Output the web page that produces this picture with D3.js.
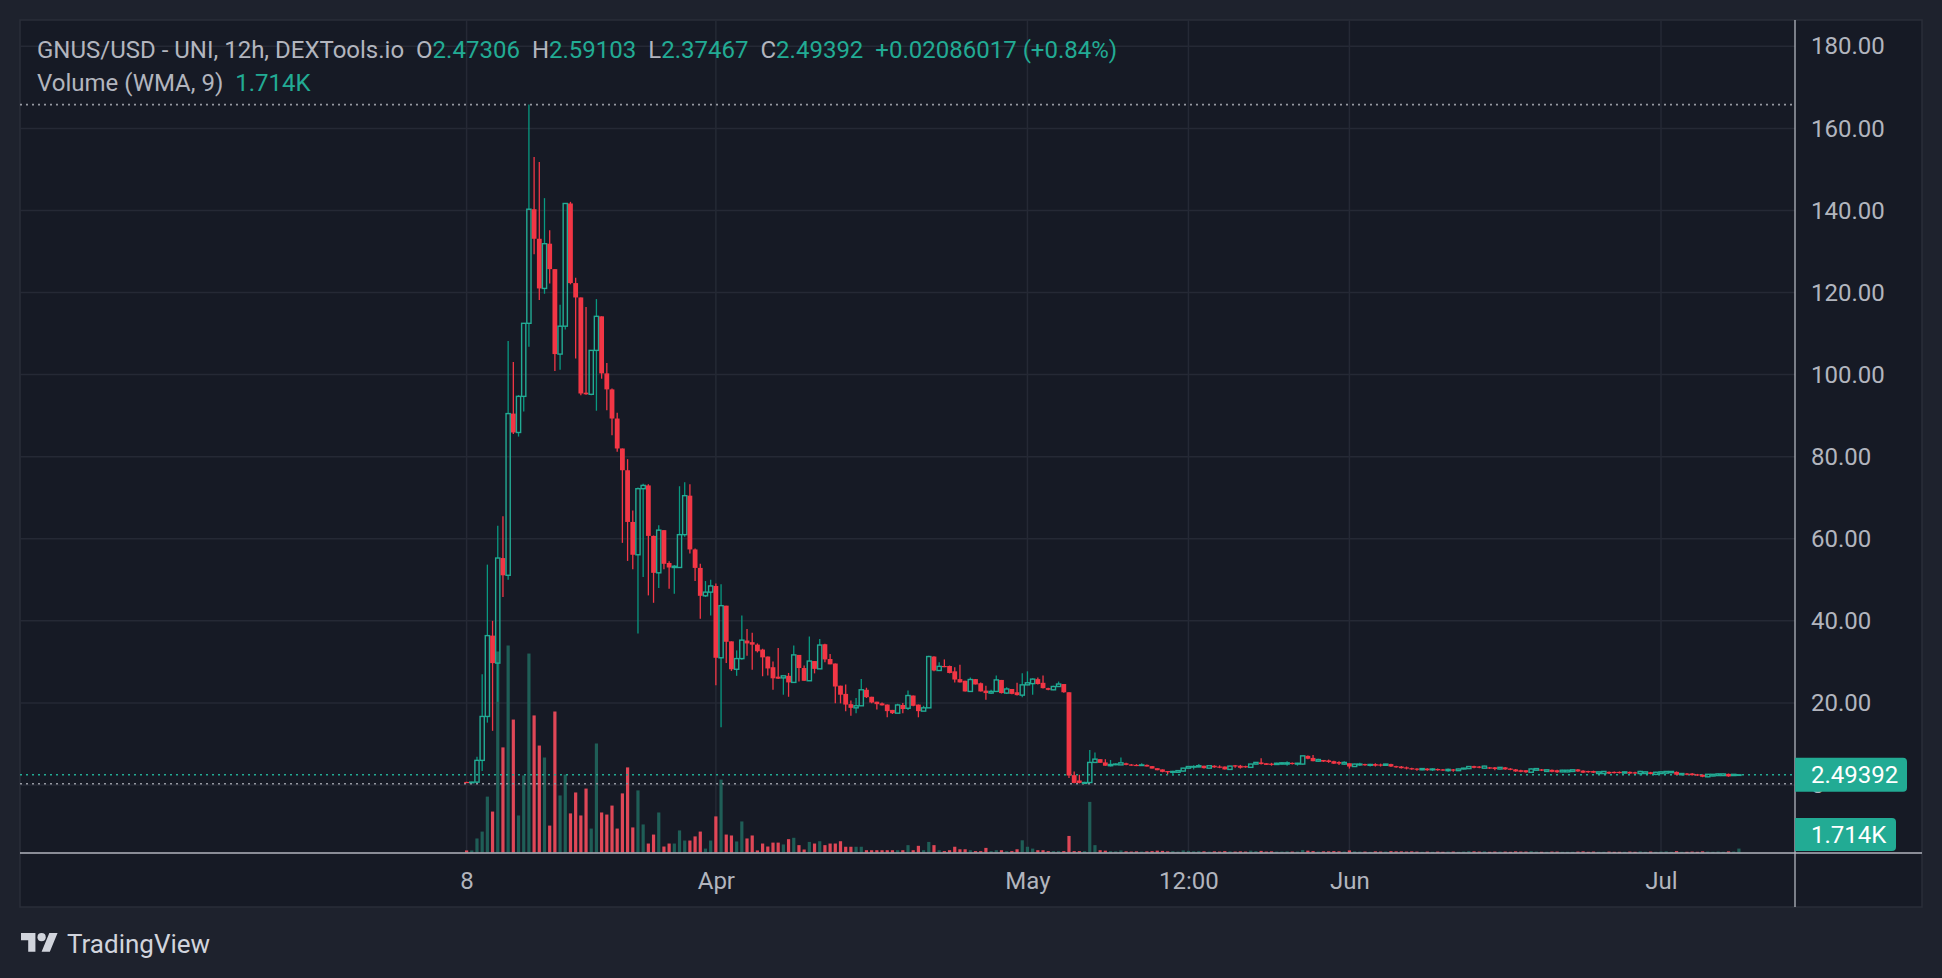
<!DOCTYPE html>
<html><head><meta charset="utf-8">
<script src="https://cdn.jsdelivr.net/npm/d3@7"></script>
<style>
html,body{margin:0;padding:0;background:#1e222d;}
svg{display:block;font-family:Roboto,"Noto Sans",sans-serif;}
</style></head><body>
<svg id="chart" width="1942" height="978"></svg>
<script>
// ---- DATA (12h candles, GNUS/USD) ----
const startDate = "2024-03-08T00:00:00Z";
const open = [
0.75,0.62,0.70,6.0,16.7,36.4,29.7,55.3,51.1,90.5,
85.9,94.7,112.5,140.3,133.1,121.0,131.9,125.7,105.0,111.8,
141.7,122.3,118.8,95.6,95.2,105.9,114.2,100.3,96.4,89.3,
82.0,76.7,64.1,56.1,72.2,73.0,60.7,51.7,62.1,54.1,
53.0,53.0,61.0,70.5,57.4,52.9,46.1,47.0,48.5,31.0,
43.7,35.0,28.2,30.8,35.2,34.8,34.2,33.0,31.3,28.7,
26.4,26.1,26.6,25.0,31.7,28.5,25.4,30.2,28.3,34.3,
30.7,29.6,24.2,22.2,19.7,18.8,19.3,23.2,21.5,20.3,
19.9,19.6,18.3,17.5,19.5,18.7,21.8,19.6,18.0,18.8,
31.3,27.9,29.0,29.0,27.7,25.8,25.4,22.8,25.8,24.8,
23.0,22.4,22.8,25.6,22.4,23.4,22.6,21.9,24.4,24.7,
25.8,24.9,23.6,23.2,24.0,24.6,22.6,2.4,1.1,0.4,
0.6,5.5,6.3,5.5,4.7,5.0,4.9,5.3,5.0,4.9,
4.8,4.9,4.6,4.1,3.8,3.4,3.1,3.1,3.4,4.1,
4.4,4.4,4.7,4.1,4.7,4.5,4.5,3.8,4.8,4.7,
4.6,4.3,5.1,5.5,5.3,5.2,5.0,5.1,5.1,5.4,
5.1,5.1,7.1,6.6,5.8,6.1,6.0,5.8,5.6,5.1,
5.3,4.5,4.9,5.1,4.8,5.1,5.0,4.8,5.1,4.6,
4.5,4.3,4.1,4.0,3.7,4.0,3.7,3.9,3.8,3.5,
3.8,3.5,3.9,4.0,4.6,4.5,4.1,4.3,4.3,3.9,
4.3,4.0,3.8,3.6,3.6,3.1,3.6,3.8,3.3,3.7,
3.6,3.2,3.2,3.3,3.8,3.5,3.4,3.4,2.8,2.8,
3.2,3.2,3.2,2.9,3.2,3.1,2.8,2.8,3.1,2.6,
2.8,2.9,3.0,3.2,2.5,2.8,2.8,2.6,2.5,2.0,
2.2,2.3,2.3,2.7,2.3,2.47306];
const high = [
0.8,0.8,6.9,27.0,53.7,40.0,63.2,65.5,108.2,103.1,
95.0,112.5,165.8,153.0,151.8,143.0,135.2,125.7,117.0,141.7,
142.1,123.6,118.8,116.5,106.0,118.4,114.2,102.8,96.6,90.7,
82.0,79.4,66.9,72.5,73.4,73.3,60.8,63.3,62.1,54.5,
53.6,72.8,73.8,73.3,57.6,53.9,49.7,50.0,49.1,48.9,
43.7,35.0,32.8,41.3,38.0,37.1,34.5,33.2,31.3,30.1,
33.4,26.6,27.3,34.0,31.7,29.1,36.2,30.2,35.6,34.4,
31.9,29.6,24.2,24.5,20.6,21.2,25.8,23.7,21.5,20.3,
20.1,19.6,18.3,19.8,20.0,23.0,21.8,19.6,19.3,31.5,
31.4,29.9,30.6,29.1,28.7,29.3,25.4,26.2,25.8,25.0,
24.2,23.2,26.7,25.6,23.8,23.4,24.9,27.2,27.7,26.0,
26.2,26.7,23.7,24.2,25.2,24.6,22.6,3.3,2.5,0.8,
8.5,7.9,6.3,6.3,6.1,5.3,6.7,5.4,5.1,5.1,
5.3,5.0,4.6,4.1,3.8,3.4,3.5,3.6,4.2,4.6,
4.8,5.1,4.7,4.7,4.8,4.8,4.5,4.7,4.9,4.9,
4.7,5.2,5.6,6.5,5.3,5.4,5.4,5.6,5.8,5.5,
5.4,7.2,7.2,7.3,6.4,6.1,6.2,5.9,5.8,5.8,
5.3,5.2,5.4,5.2,5.2,5.3,5.2,5.2,5.2,4.7,
4.6,4.5,4.2,4.1,4.1,4.1,4.1,4.0,3.9,4.0,
3.9,4.0,4.2,4.6,4.7,4.6,4.7,4.4,4.4,4.4,
4.4,4.1,3.9,3.7,3.6,4.1,4.1,3.9,3.8,3.8,
3.7,3.7,3.7,3.8,3.9,3.6,3.5,3.5,3.3,3.4,
3.3,3.3,3.3,3.3,3.3,3.2,3.5,3.3,3.2,3.2,
3.3,3.4,3.4,3.3,2.9,2.9,2.9,2.7,2.6,2.7,
2.7,2.8,2.8,2.8,2.7,2.59103];
const low = [
0.5,0.55,0.5,3.4,15.2,13.2,20.3,45.8,50.0,85.5,
84.9,91.0,106.8,129.3,118.2,119.7,122.2,100.9,101.2,111.0,
122.0,103.9,95.0,95.1,95.0,91.2,99.0,91.3,85.2,81.2,
59.0,54.6,52.6,36.9,50.7,46.2,44.4,48.0,52.6,47.8,
46.6,53.0,60.5,56.4,49.7,40.5,45.8,41.3,24.3,14.1,
29.7,27.8,26.6,30.5,31.5,28.1,32.3,26.5,26.7,23.2,
25.8,22.0,21.5,25.0,25.2,25.4,25.4,27.2,28.3,29.9,
29.4,19.9,19.9,18.0,16.9,17.5,19.3,21.2,19.9,18.4,
19.4,16.5,17.3,17.5,17.5,18.3,19.2,16.5,18.0,18.8,
27.7,27.9,28.7,27.2,25.0,25.0,22.8,22.8,24.5,22.8,
20.8,22.2,22.8,22.3,22.2,22.1,21.8,21.4,24.3,22.0,
24.5,23.5,23.1,23.1,23.9,22.5,1.7,0.4,0.4,0.3,
0.5,5.5,5.4,4.7,4.5,4.8,4.9,4.8,4.7,4.6,
4.6,4.5,4.0,3.6,3.1,2.6,2.3,3.0,3.3,4.0,
3.8,4.3,4.0,4.0,4.2,4.1,3.8,3.7,4.2,4.0,
4.2,4.2,5.0,5.0,4.9,4.7,4.9,5.0,4.7,5.0,
4.7,5.0,6.3,5.8,5.6,5.6,5.4,5.1,4.9,4.9,
4.0,4.4,4.6,4.7,4.5,4.5,4.5,4.7,4.4,4.2,
4.0,3.8,3.7,3.5,3.6,3.5,3.4,3.5,3.5,3.2,
3.2,3.4,3.8,4.0,4.1,4.1,4.0,3.9,3.6,3.8,
3.7,3.6,3.2,3.1,3.0,3.1,3.5,3.4,3.2,3.1,
3.0,3.1,3.1,3.2,3.2,2.9,3.0,2.9,2.7,2.7,
2.7,2.8,2.8,2.8,2.7,2.7,2.3,2.7,2.6,2.4,
2.7,2.8,2.9,2.4,2.4,2.4,2.3,2.2,1.9,1.9,
2.1,2.2,2.2,2.0,2.2,2.37467];
const close = [
0.62,0.70,6.0,16.7,36.4,29.7,55.3,51.1,90.5,85.9,
94.7,112.5,140.3,133.1,121.0,131.9,125.7,105.0,111.8,141.7,
122.3,118.8,95.4,95.2,105.9,114.2,100.3,96.4,89.3,82.0,
76.7,64.1,56.1,72.2,73.0,60.7,51.7,62.1,53.9,53.0,
53.3,61.0,70.5,57.4,52.9,46.1,47.0,48.5,31.0,43.7,
34.9,28.2,30.8,35.3,34.5,34.2,32.6,31.1,28.4,26.0,
25.9,26.6,25.0,31.7,28.5,25.4,30.2,28.3,34.1,30.6,
29.4,24.0,22.0,19.6,18.8,19.3,23.2,21.4,20.1,19.7,
19.4,18.0,17.5,19.5,18.5,21.8,19.3,18.0,18.8,31.3,
27.9,28.9,28.8,27.3,25.7,25.0,22.8,25.7,24.5,22.8,
22.4,22.8,25.6,22.4,23.4,22.2,21.9,24.4,24.9,25.8,
24.6,23.6,23.2,24.0,24.6,22.6,2.3,0.5,0.5,0.6,
5.5,6.3,5.4,4.7,5.0,5.1,5.4,4.9,4.8,4.8,
4.9,4.5,4.0,3.6,3.2,3.1,3.3,3.5,4.1,4.5,
4.5,4.7,4.1,4.7,4.3,4.3,3.8,4.6,4.5,4.2,
4.3,5.1,5.5,5.1,4.9,4.9,5.3,5.4,5.4,5.1,
5.3,7.1,6.4,5.8,6.2,5.7,5.6,5.2,5.2,5.5,
4.5,5.1,5.1,4.8,5.0,4.7,4.8,5.1,4.5,4.3,
4.1,4.0,3.8,3.8,4.0,3.6,3.9,3.6,3.6,3.8,
3.5,3.9,4.1,4.5,4.2,4.2,4.6,4.0,3.9,4.3,
3.8,3.7,3.3,3.2,3.1,3.9,4.0,3.5,3.7,3.2,
3.1,3.6,3.6,3.7,3.3,3.0,3.1,3.0,3.2,3.3,
2.8,2.9,2.9,3.2,2.8,2.8,3.3,3.2,2.7,3.1,
3.2,3.3,3.3,2.5,2.8,2.5,2.4,2.3,2.0,2.6,
2.6,2.7,2.7,2.1,2.6,2.49392];
// volume in thousands
const volume = [
0.9,0.9,6.1,9.1,24.3,17.8,87.4,45.7,90.0,57.8,
16.1,33.5,86.5,59.6,46.5,41.3,11.7,61.3,24.8,33.9,
17.0,26.1,16.1,27.8,10.4,47.4,17.4,16.5,20.4,10.4,
25.7,37.0,10.9,27.0,12.2,3.9,7.8,17.4,2.6,3.9,
3.9,9.6,5.2,5.2,7.0,9.1,1.7,5.2,15.7,31.7,
7.8,7.4,4.8,13.5,6.1,7.4,0.9,3.9,2.6,4.3,
4.3,3.5,5.8,6.4,3.2,1.3,4.6,3.9,4.9,3.2,
3.9,3.9,4.9,2.5,2.5,2.5,2.5,1.0,1.0,1.0,
1.0,1.0,1.0,1.0,1.0,3.2,1.0,2.9,1.0,4.6,
3.2,1.0,0.6,1.0,2.5,1.4,1.4,1.0,0.6,0.6,
2.0,0.6,1.0,1.0,0.6,0.6,1.4,5.3,2.5,1.7,
1.0,1.0,0.6,0.6,0.6,0.6,7.2,0.6,0.6,0.6,
22.0,3.2,1.0,0.8,0.6,0.5,0.9,0.5,0.4,0.5,
0.4,0.5,0.6,0.8,0.7,0.5,0.6,0.4,0.9,0.7,
0.5,0.6,0.5,0.4,0.5,0.4,0.6,0.5,0.4,0.5,
0.4,0.8,0.6,0.7,0.4,0.5,0.4,0.4,0.5,0.4,
0.4,1.1,0.8,0.6,0.4,0.5,0.5,0.6,0.5,0.4,
0.9,0.5,0.4,0.4,0.3,0.5,0.4,0.4,0.6,0.5,
0.5,0.4,0.5,0.4,0.3,0.4,0.3,0.4,0.3,0.4,
0.4,0.3,0.4,0.6,0.5,0.4,0.5,0.3,0.4,0.4,
0.4,0.3,0.5,0.4,0.4,0.6,0.4,0.3,0.3,0.4,
0.4,0.3,0.3,0.3,0.4,0.5,0.3,0.4,0.3,0.3,
0.4,0.3,0.3,0.3,0.4,0.3,0.5,0.3,0.4,0.3,
0.4,0.5,0.3,0.6,0.3,0.3,0.4,0.3,0.5,0.4,
0.3,0.4,0.3,0.5,0.4,1.714];

const priceTicks = [0,20,40,60,80,100,120,140,160,180];
const timeTicks = ["2024-03-08T00:00:00Z","2024-04-01T00:00:00Z","2024-05-01T00:00:00Z","2024-05-16T12:00:00Z","2024-06-01T00:00:00Z","2024-07-01T00:00:00Z"];
const timeTickLabels = ["8","Apr","May","12:00","Jun","Jul"];
const legendTitle = "GNUS/USD - UNI, 12h, DEXTools.io";
const legendChange = "+0.02086017 (+0.84%)";
const volumeTitle = "Volume (WMA, 9)";
const volumeLast = "1.714K";

// ---- STYLE ----
const UP = "#22ab94", UPWICK = "#089981", DOWN = "#f23645";
const VOLUP = "#1f5e57", VOLDOWN = "#e04757";
const TXT = "#b2b5be", GRID = "#252935", AXIS = "#b2b5be";

const svg = d3.select("#chart");
const P = {left:20, right:1795, top:20, bottom:853};
const PANEL = {left:20, right:1922, top:20, bottom:907};

const t0 = new Date(startDate);
const dates = open.map((_, i) => new Date(t0.getTime() + i * 12 * 3600e3));
const x = d3.scaleUtc()
  .domain([new Date("2024-03-08T00:00:00Z"), new Date("2024-07-01T00:00:00Z")])
  .range([466.6, 1661]);
const y = d3.scaleLinear().domain([0,180]).range([785, 46.3]);
const yv = d3.scaleLinear().domain([0,100]).range([852.5, 622.5]);

// backgrounds
svg.append("rect").attr("width",1942).attr("height",978).attr("fill","#1e222d");
svg.append("rect").attr("x",PANEL.left).attr("y",PANEL.top)
  .attr("width",PANEL.right-PANEL.left).attr("height",PANEL.bottom-PANEL.top)
  .attr("fill","#161a25").attr("stroke","#2a2e39").attr("stroke-width",1.5);

svg.append("defs").append("clipPath").attr("id","clip").append("rect")
  .attr("x",P.left).attr("y",P.top).attr("width",P.right-P.left).attr("height",P.bottom-P.top);

// grid
const grid = svg.append("g").attr("clip-path","url(#clip)");
grid.selectAll("line.h").data(priceTicks).join("line")
  .attr("x1",P.left).attr("x2",P.right).attr("y1",d=>y(d)).attr("y2",d=>y(d))
  .attr("stroke",GRID).attr("stroke-width",1.5);
grid.selectAll("line.v").data(timeTicks).join("line")
  .attr("x1",d=>x(new Date(d))).attr("x2",d=>x(new Date(d))).attr("y1",P.top).attr("y2",P.bottom)
  .attr("stroke",GRID).attr("stroke-width",1.5);

const idx = d3.range(open.length);
const chart = svg.append("g").attr("clip-path","url(#clip)");

// volume
chart.selectAll("rect.vol").data(idx).join("rect")
  .attr("x",i=>x(dates[i])-1.6).attr("width",3.2)
  .attr("y",i=>yv(volume[i])).attr("height",i=>Math.max(1,yv(0)-yv(volume[i])))
  .attr("fill",i=>close[i]>=open[i]?VOLUP:VOLDOWN);

// dotted reference lines
const hiY = y(d3.max(high)), loY = y(d3.min(low)), lastY = y(close[close.length-1]);
[[hiY,"#9598a1"],[loY,"#9598a1"],[lastY,UP]].forEach(([yy,c])=>{
  chart.append("line").attr("x1",P.left).attr("x2",P.right).attr("y1",yy).attr("y2",yy)
    .attr("stroke",c).attr("stroke-width",1.6).attr("stroke-dasharray","2,4");
});

// candles
chart.selectAll("g.c").data(idx).join("g").attr("class","c").each(function(i){
  const g = d3.select(this);
  const cx = x(dates[i]);
  const up = close[i] >= open[i];
  const yo=y(open[i]), yc=y(close[i]), yh=y(high[i]), yl=y(low[i]);
  const top=Math.min(yo,yc), bot=Math.max(yo,yc);
  if (up) {
    if (top-yh>0.3) g.append("line").attr("x1",cx).attr("x2",cx).attr("y1",yh).attr("y2",top)
      .attr("stroke",UPWICK).attr("stroke-width",1.3);
    if (yl-bot>0.3) g.append("line").attr("x1",cx).attr("x2",cx).attr("y1",bot).attr("y2",yl)
      .attr("stroke",UPWICK).attr("stroke-width",1.3);
    g.append("rect").attr("x",cx-2.1).attr("width",4.2).attr("y",top).attr("height",Math.max(0.6,bot-top))
      .attr("fill","none").attr("stroke",UP).attr("stroke-width",1.4);
  } else {
    g.append("line").attr("x1",cx).attr("x2",cx).attr("y1",yh).attr("y2",yl)
      .attr("stroke",DOWN).attr("stroke-width",1.3);
    g.append("rect").attr("x",cx-2.4).attr("width",4.8).attr("y",top).attr("height",Math.max(1.2,bot-top))
      .attr("fill",DOWN);
  }
});

// axes separators
svg.append("line").attr("x1",P.right).attr("x2",P.right).attr("y1",PANEL.top).attr("y2",PANEL.bottom)
  .attr("stroke",AXIS).attr("stroke-width",1.3);
svg.append("line").attr("x1",PANEL.left).attr("x2",PANEL.right).attr("y1",P.bottom).attr("y2",P.bottom)
  .attr("stroke",AXIS).attr("stroke-width",1.5);

// price axis
const f2 = d3.format(".2f");
const yAxis = d3.axisRight(y).tickValues(priceTicks).tickSize(0).tickPadding(16)
  .tickFormat(d => d === 0 ? "0" : f2(d));
const ya = svg.append("g").attr("transform",`translate(${P.right},0)`).call(yAxis);
ya.select(".domain").remove();
ya.selectAll("text").attr("fill",TXT).style("font-size","24px").style("font-family","Roboto");

// time axis
const xAxis = d3.axisBottom(x).tickValues(timeTicks.map(d=>new Date(d))).tickSize(0).tickPadding(18.5)
  .tickFormat((d,i)=>timeTickLabels[i]);
const xa = svg.append("g").attr("transform",`translate(0,${P.bottom})`).call(xAxis);
xa.select(".domain").remove();
xa.selectAll("text").attr("fill",TXT).style("font-size","24px").style("font-family","Roboto");

// price labels
function tag(y0, y1, w, label){
  const g = svg.append("g");
  const r = 4, x0 = P.right, x1 = P.right + w;
  g.append("path").attr("d",`M${x0},${y0}H${x1-r}Q${x1},${y0} ${x1},${y0+r}V${y1-r}Q${x1},${y1} ${x1-r},${y1}H${x0}Z`)
    .attr("fill",UP);
  g.append("text").attr("x",P.right+16).attr("y",(y0+y1)/2).attr("dy","0.35em")
    .attr("fill","#ffffff").style("font-size","24px").text(label);
}
tag(lastY-17, lastY+17, 112, d3.format(".5f")(close[close.length-1]));
tag(818, 851, 101, volumeLast);

// legend
const fmt5 = d3.format(".5f");
const n = open.length-1;
const lg = svg.append("text").attr("x",37).attr("y",58).style("font-size","24px");
lg.append("tspan").attr("fill",TXT).text(legendTitle);
[["O",open[n]],["H",high[n]],["L",low[n]],["C",close[n]]].forEach(([k,v])=>{
  lg.append("tspan").attr("dx",12).attr("fill",TXT).text(k);
  lg.append("tspan").attr("fill",UP).text(fmt5(v));
});
lg.append("tspan").attr("dx",12).attr("fill",UP).text(legendChange);
const lg2 = svg.append("text").attr("x",37).attr("y",91).style("font-size","24px");
lg2.append("tspan").attr("fill",TXT).text(volumeTitle);
lg2.append("tspan").attr("dx",12).attr("fill",UP).text(volumeLast);

// TradingView logo
const logo = svg.append("g").attr("transform","translate(21,929) scale(1.03)").attr("fill","#d1d4dc");
logo.append("path").attr("d","M14 22H7V11H0V4h14v18zM28 22h-8l7.5-18h8L28 22z");
logo.append("circle").attr("cx",20).attr("cy",8).attr("r",4);
svg.append("text").attr("x",67).attr("y",953).attr("fill","#d1d4dc").style("font-size","26px").text("TradingView");
</script>
</body></html>
